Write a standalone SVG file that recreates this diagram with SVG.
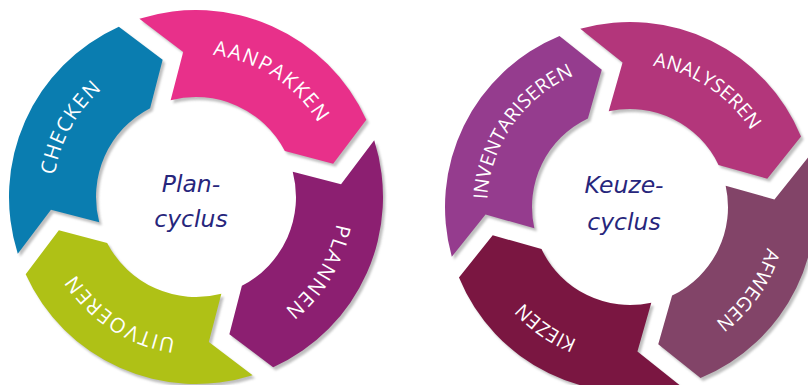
<svg xmlns="http://www.w3.org/2000/svg" xmlns:xlink="http://www.w3.org/1999/xlink" width="808" height="385" viewBox="0 0 808 385">
  <style>
    .lbl { font-family: "Open Sans", "Noto Sans", sans-serif; font-size: 20.5px; fill: #ffffff; }
    .lblL { letter-spacing: 1.4px; }
    .lblR { letter-spacing: 0.2px; font-size: 19.5px; }
    .ctr { font-family: "DejaVu Sans", Verdana, sans-serif; font-style: italic; font-size: 23.5px; fill: #27267c; text-anchor: middle; }
    .shadow { fill: #bfbfbf; filter: url(#blur); }
  </style>
  <defs>
    <filter id="blur" x="-10%" y="-10%" width="120%" height="120%">
      <feGaussianBlur stdDeviation="0.8"/>
    </filter>
    <path id="segL" d="M186.68,11 A187,187 0 0,1 11,186.68 L-18,140 L11,99.39 A100,100 0 0,0 99.39,11 L140,40 Z"/>
    <path id="segR" d="M184.67,11 A185,185 0 0,1 11,184.67 L-18,139 L11,97.38 A98,98 0 0,0 97.38,11 L139,40 Z"/>
    <path id="tp" d="M122.58,-73.65 A143,143 0 0,1 -107.92,93.82"/>
  </defs>

  <!-- Left cycle: Plan-cyclus -->
  <g id="shadows-left" transform="translate(2.5,3)">
    <use xlink:href="#segL" class="shadow" transform="translate(196,197) rotate(159)"/>
    <use xlink:href="#segL" class="shadow" transform="translate(196,197) rotate(249)"/>
    <use xlink:href="#segL" class="shadow" transform="translate(196,197) rotate(339)"/>
    <use xlink:href="#segL" class="shadow" transform="translate(196,197) rotate(69)"/>
  </g>
  <g id="checken" transform="translate(196,197) rotate(159)">
    <use xlink:href="#segL" fill="#0a7db0"/>
    <text class="lbl lblL" transform="rotate(-4)"><textPath xlink:href="#tp" startOffset="50%" text-anchor="middle">CHECKEN</textPath></text>
  </g>
  <g id="aanpakken" transform="translate(196,197) rotate(249)">
    <use xlink:href="#segL" fill="#e8308a"/>
    <text class="lbl lblL"><textPath xlink:href="#tp" startOffset="50%" text-anchor="middle">AANPAKKEN</textPath></text>
  </g>
  <g id="plannen" transform="translate(196,197) rotate(339)">
    <use xlink:href="#segL" fill="#8c1f71"/>
    <text class="lbl lblL" transform="rotate(-1.5)"><textPath xlink:href="#tp" startOffset="50%" text-anchor="middle">PLANNEN</textPath></text>
  </g>
  <g id="uitvoeren" transform="translate(196,197) rotate(69)">
    <use xlink:href="#segL" fill="#afc116"/>
    <text class="lbl lblL"><textPath xlink:href="#tp" startOffset="50%" text-anchor="middle">UITVOEREN</textPath></text>
  </g>
  <g id="plan-cyclus">
    <text class="ctr" x="191" y="192">Plan-</text>
    <text class="ctr" x="191" y="227">cyclus</text>
  </g>

  <!-- Right cycle: Keuze-cyclus -->
  <g id="shadows-right" transform="translate(2.5,3)">
    <use xlink:href="#segR" class="shadow" transform="translate(630,207) rotate(161)"/>
    <use xlink:href="#segR" class="shadow" transform="translate(630,207) rotate(251)"/>
    <use xlink:href="#segR" class="shadow" transform="translate(630,207) rotate(341)"/>
    <use xlink:href="#segR" class="shadow" transform="translate(630,207) rotate(71)"/>
  </g>
  <g id="inventariseren" transform="translate(630,207) rotate(161)">
    <use xlink:href="#segR" fill="#953c8e"/>
    <text class="lbl lblR"><textPath xlink:href="#tp" startOffset="50%" text-anchor="middle">INVENTARISEREN</textPath></text>
  </g>
  <g id="analyseren" transform="translate(630,207) rotate(251)">
    <use xlink:href="#segR" fill="#b3367b"/>
    <text class="lbl lblR" transform="rotate(-1.5)"><textPath xlink:href="#tp" startOffset="50%" text-anchor="middle">ANALYSEREN</textPath></text>
  </g>
  <g id="afwegen" transform="translate(630,207) rotate(341)">
    <use xlink:href="#segR" fill="#824468"/>
    <text class="lbl lblR"><textPath xlink:href="#tp" startOffset="50%" text-anchor="middle">AFWEGEN</textPath></text>
  </g>
  <g id="kiezen" transform="translate(630,207) rotate(71)">
    <use xlink:href="#segR" fill="#7a1641"/>
    <text class="lbl lblR"><textPath xlink:href="#tp" startOffset="50%" text-anchor="middle">KIEZEN</textPath></text>
  </g>
  <g id="keuze-cyclus">
    <text class="ctr" x="624" y="193">Keuze-</text>
    <text class="ctr" x="624" y="230">cyclus</text>
  </g>

  <g id="connectors"></g>
</svg>
